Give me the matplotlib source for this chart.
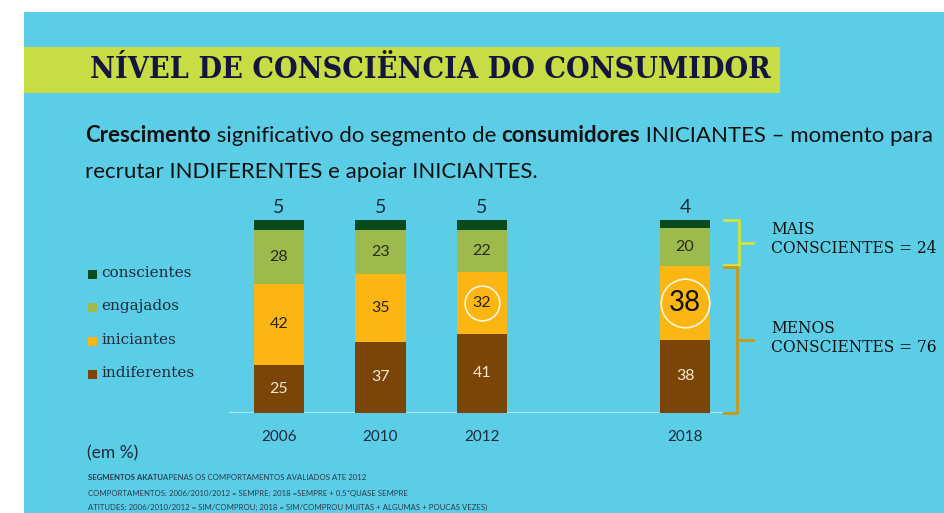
import matplotlib
matplotlib.use("Agg")
import matplotlib.pyplot as plt
from matplotlib.patches import Rectangle

# ---------------- data ----------------
years = ["2006", "2010", "2012", "2018"]
segments = ["indiferentes", "iniciantes", "engajados", "conscientes"]
indiferentes = [25, 37, 41, 38]
iniciantes = [42, 35, 32, 38]
engajados = [28, 23, 22, 20]
conscientes = [5, 5, 5, 4]
mais_conscientes = 24
menos_conscientes = 76

title = "NÍVEL DE CONSCIËNCIA DO CONSUMIDOR"
footnotes = [
    ("SEGMENTOS AKATU", "APENAS OS COMPORTAMENTOS AVALIADOS ATE 2012"),
    ("", "COMPORTAMENTOS: 2006/2010/2012 = SEMPRE; 2018 =SEMPRE + 0,5*QUASE SEMPRE"),
    ("", "ATITUDES: 2006/2010/2012 = SIM/COMPROU; 2018 = SIM/COMPROU MUITAS + ALGUMAS + POUCAS VEZES)"),
]

# ---------------- style ----------------
W, H = 944, 513
BG = "#5ccde7"
BAND = "#c8dc44"
COLORS = {"indiferentes": "#7a4506", "iniciantes": "#fbb614",
          "engajados": "#9dbb4d", "conscientes": "#0b4a1c"}
TXT_ON = {"indiferentes": "#f3e6d3", "iniciantes": "#2a2418",
          "engajados": "#2a2a1e", "conscientes": "#ffffff"}
DARK = "#1d2b3a"
SERIF = "DejaVu Serif"
SANS = "Lato"
xpos = [0, 1, 2, 4]

fig = plt.figure(figsize=(W / 100, H / 100), dpi=100)
fig.patch.set_facecolor("white")
renderer = fig.canvas.get_renderer()

def fx(px):
    return px / W

def fy(py):
    return 1 - py / H

# background panel and title band
fig.add_artist(Rectangle((fx(24), 0), 1 - fx(24), fy(12), transform=fig.transFigure,
                         facecolor=BG, edgecolor="none", zorder=0))
fig.add_artist(Rectangle((fx(24), fy(93)), fx(780) - fx(24), fy(47) - fy(93),
                         transform=fig.transFigure, facecolor=BAND, edgecolor="none", zorder=1))
fig.text(fx(90), fy(69), title, fontsize=21.8, fontweight="bold", family=SERIF,
         fontstretch="condensed", color="#15163d", va="center", ha="left", zorder=2)

# subtitle
xcur = fx(85)
parts = [("Crescimento", "bold"), (" significativo do segmento de ", "normal"),
         ("consumidores", "bold"), (" INICIANTES – momento para", "normal")]
for s, w in parts:
    t = fig.text(xcur, fy(136), s, fontsize=16, fontweight=w, family=SANS,
                 color="#111111", va="center")
    xcur += t.get_window_extent(renderer=renderer).width / W
fig.text(fx(85), fy(172), "recrutar INDIFERENTES e apoiar INICIANTES.", fontsize=16,
         family=SANS, color="#111111", va="center")

# ---------------- chart ----------------
ax = fig.add_axes([fx(229), fy(413), fx(723) - fx(229), (413 - 220) / H])
ax.set_xlim(-0.4926, 4.374)
ax.set_ylim(0, 100)
ax.axis("off")
ax.patch.set_alpha(0)

data = {"indiferentes": indiferentes, "iniciantes": iniciantes,
        "engajados": engajados, "conscientes": conscientes}
bottom = [0] * len(years)
for seg in segments:
    vals = data[seg]
    ax.bar(xpos, vals, width=0.5, bottom=bottom, color=COLORS[seg], edgecolor="none", zorder=3)
    for i, v in enumerate(vals):
        if seg == "conscientes":
            ax.text(xpos[i], bottom[i] + v + 6.5, str(v), ha="center", va="center",
                    fontsize=14, family=SANS, color=DARK, zorder=5)
        else:
            big = (seg == "iniciantes" and i == 3)
            ax.text(xpos[i], bottom[i] + v / 2, str(v), ha="center", va="center",
                    fontsize=20 if big else 11.5, family=SANS,
                    color="#111111" if big else TXT_ON[seg], zorder=5)
    bottom = [b + v for b, v in zip(bottom, vals)]

# highlight circles around iniciantes 2012 and 2018
highlight_ms = {2: 25, 3: 35}
for i, ms in highlight_ms.items():
    ax.plot(xpos[i], indiferentes[i] + iniciantes[i] / 2, marker="o", ms=ms,
            mfc="none", mec="#fff6dc", mew=1.2, zorder=4)

# baseline
ax.axhline(0, color="#b0e3ee", lw=1.6, zorder=2)

# year labels
for x, y in zip(xpos, years):
    ax.text(x, -12.5, y, ha="center", va="center", fontsize=11, family=SANS, color=DARK)

# brackets (x in data units, beyond xlim)
def dx(px):
    return (px - 279) / 101.5

top_c = "#d4e33a"
low_c = "#c99a12"
y0u, y1u = menos_conscientes, menos_conscientes + mais_conscientes
ax.plot([dx(724), dx(739), dx(739), dx(724)], [y1u, y1u, y0u + 0.5, y0u + 0.5],
        color=top_c, lw=2, clip_on=False, zorder=3)
ax.plot([dx(739), dx(753)], [(y0u + y1u) / 2] * 2, color=top_c, lw=2, clip_on=False)
ax.plot([dx(724), dx(737), dx(737), dx(724)], [y0u - 0.5, y0u - 0.5, 0, 0],
        color=low_c, lw=2, clip_on=False, zorder=3)
ax.plot([dx(737), dx(753)], [y0u / 2] * 2, color=low_c, lw=2, clip_on=False)

ax.text(dx(771), (y0u + y1u) / 2 + 2, f"MAIS\nCONSCIENTES = {mais_conscientes}",
        ha="left", va="center", fontsize=11.2, family=SERIF, color="#111111",
        linespacing=1.15, clip_on=False)
ax.text(dx(771), y0u / 2 + 1, f"MENOS\nCONSCIENTES = {menos_conscientes}",
        ha="left", va="center", fontsize=11.2, family=SERIF, color="#111111",
        linespacing=1.15, clip_on=False)

# legend
leg_y = {"conscientes": 273, "engajados": 306, "iniciantes": 340, "indiferentes": 373}
for seg in ["conscientes", "engajados", "iniciantes", "indiferentes"]:
    yc = leg_y[seg]
    fig.add_artist(Rectangle((fx(88), fy(yc + 6)), fx(9), 9 / H, transform=fig.transFigure,
                             facecolor=COLORS[seg], edgecolor="none"))
    fig.text(fx(101), fy(yc), seg, fontsize=11, family=SERIF, color=DARK, va="center")

# (em %)
fig.text(fx(87), fy(453), "(em %)", fontsize=12.5, family=SANS, color=DARK, va="center")

# footnotes
fn_y = [477, 493, 507]
for (b, n), y in zip(footnotes, fn_y):
    x = fx(88)
    if b:
        t = fig.text(x, fy(y), b, fontsize=5.6, fontweight="bold", family=SANS,
                     color="#2a3a48", va="center")
        x += t.get_window_extent(renderer=renderer).width / W
    fig.text(x, fy(y), n, fontsize=5.6, family=SANS, color="#2a3a48", va="center")

fig.savefig("out.png", dpi=100, facecolor=fig.get_facecolor())
